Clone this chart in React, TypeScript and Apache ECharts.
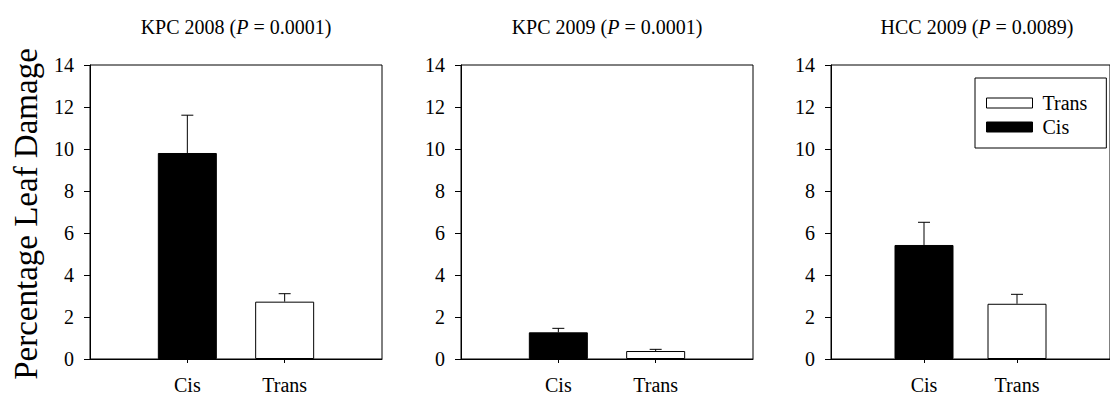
import React, { useEffect, useRef } from "react";
import * as echarts from "echarts";

// Leaf damage by site/year for cis and trans plants
const categories = ["Cis", "Trans"];
const panelTitles = ["KPC 2008", "KPC 2009", "HCC 2009"];
const pValues = ["0.0001", "0.0001", "0.0089"];
const cisMeans = [9.81, 1.27, 5.43];
const cisErrors = [1.8, 0.19, 1.08];
const transMeans = [2.73, 0.38, 2.63];
const transErrors = [0.38, 0.08, 0.45];
const yMax = 14;
const yStep = 2;

const FONT = "Liberation Serif, Times New Roman, serif";
const panelLefts = [90, 461, 831];
const panelWidth = 292;
const panelTop = 65;
const panelHeight = 294;

export default function App() {
  const ref = useRef<HTMLDivElement>(null);

  useEffect(() => {
    if (!ref.current) return;
    const chart = echarts.init(ref.current, undefined, { renderer: "svg" });

    const grids = panelLefts.map((left) => ({
      left,
      top: panelTop,
      width: panelWidth,
      height: panelHeight,
      show: true,
      borderColor: "#000",
      borderWidth: 1,
      backgroundColor: "transparent",
      containLabel: false,
    }));

    const xAxes = panelLefts.map((_, i) => ({
      type: "value",
      gridIndex: i,
      min: 0,
      max: categories.length + 1,
      splitLine: { show: false },
      axisLine: { show: true, lineStyle: { color: "#000", width: 1 } },
      axisTick: {
        show: true,
        customValues: categories.map((_, k) => k + 1),
        length: 4,
        lineStyle: { color: "#000" },
      },
      axisLabel: {
        show: true,
        customValues: categories.map((_, k) => k + 1),
        formatter: (v: number) => categories[Math.round(v) - 1] ?? "",
        margin: 16,
        fontFamily: FONT,
        fontSize: 20,
        color: "#000",
      },
    }));

    const yAxes = panelLefts.map((_, i) => ({
      type: "value",
      gridIndex: i,
      min: 0,
      max: yMax,
      interval: yStep,
      splitLine: { show: false },
      axisLine: { show: true, lineStyle: { color: "#000", width: 1 } },
      axisTick: { show: true, length: 6, lineStyle: { color: "#000" } },
      axisLabel: {
        margin: 16,
        fontFamily: FONT,
        fontSize: 20,
        color: "#000",
      },
    }));

    const series: any[] = [];
    panelLefts.forEach((_, i) => {
      series.push({
        type: "bar",
        name: "Cis",
        xAxisIndex: i,
        yAxisIndex: i,
        barWidth: 59,
        barGap: "-100%",
        itemStyle: { color: "#000", borderColor: "#000", borderWidth: 1 },
        data: [[1, cisMeans[i]]],
      });
      series.push({
        type: "bar",
        name: "Trans",
        xAxisIndex: i,
        yAxisIndex: i,
        barWidth: 59,
        barGap: "-100%",
        itemStyle: { color: "#fff", borderColor: "#000", borderWidth: 1 },
        data: [[2, transMeans[i]]],
      });
      // upper standard-error whiskers
      series.push({
        type: "custom",
        xAxisIndex: i,
        yAxisIndex: i,
        silent: true,
        z: 1,
        data: [
          [1, cisMeans[i], cisMeans[i] + cisErrors[i]],
          [2, transMeans[i], transMeans[i] + transErrors[i]],
        ],
        renderItem: (_params: any, api: any) => {
          const x = api.value(0);
          const base = api.coord([x, api.value(1)]);
          const top = api.coord([x, api.value(2)]);
          const half = 6;
          const style = { stroke: "#000", lineWidth: 1 };
          return {
            type: "group",
            children: [
              {
                type: "line",
                shape: { x1: base[0], y1: base[1], x2: top[0], y2: top[1] },
                style,
              },
              {
                type: "line",
                shape: { x1: top[0] - half, y1: top[1], x2: top[0] + half, y2: top[1] },
                style,
              },
            ],
          };
        },
      });
    });

    const titleTexts = panelLefts.map((left, i) => ({
      type: "text",
      x: left + panelWidth / 2,
      y: 27,
      style: {
        text: `${panelTitles[i]} ({i|P} = ${pValues[i]})`,
        rich: {
          i: { fontStyle: "italic", fontFamily: FONT, fontSize: 20, fill: "#000" },
        },
        fontFamily: FONT,
        fontSize: 20,
        fill: "#000",
        align: "center",
        verticalAlign: "middle",
      },
    }));

    chart.setOption({
      animation: false,
      backgroundColor: "#fff",
      textStyle: { fontFamily: FONT, color: "#000" },
      grid: grids,
      xAxis: xAxes,
      yAxis: yAxes,
      series,
      legend: {
        orient: "vertical",
        left: 975,
        top: 78,
        padding: [15, 19, 11, 11],
        itemGap: 4,
        itemWidth: 46,
        itemHeight: 10,
        borderColor: "#000",
        borderWidth: 1,
        backgroundColor: "#fff",
        selectedMode: false,
        icon: "rect",
        textStyle: {
          fontFamily: FONT,
          fontSize: 20,
          color: "#000",
          padding: [0, 0, 0, 5],
        },
        data: [
          { name: "Trans", itemStyle: { color: "#fff", borderColor: "#000", borderWidth: 1 } },
          { name: "Cis", itemStyle: { color: "#000", borderColor: "#000", borderWidth: 1 } },
        ],
      },
      graphic: [
        ...titleTexts,
        {
          type: "text",
          x: 26,
          y: panelTop + panelHeight / 2 + 2,
          rotation: Math.PI / 2,
          style: {
            text: "Percentage Leaf Damage",
            fontFamily: FONT,
            fontSize: 33,
            fill: "#000",
            align: "center",
            verticalAlign: "middle",
          },
        },
      ],
    });

    return () => chart.dispose();
  }, []);

  return (
    <div
      ref={ref}
      style={{ position: "fixed", left: 0, top: 0, width: 1110, height: 399, background: "#fff" }}
    />
  );
}
